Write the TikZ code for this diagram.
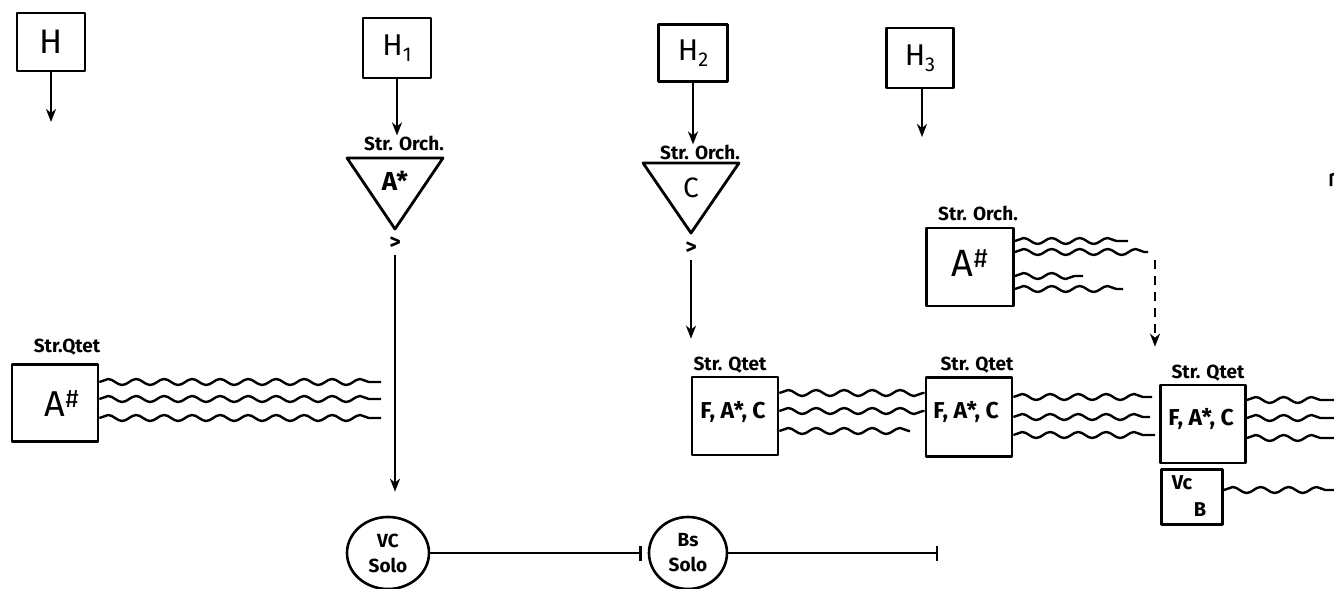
\documentclass[tikz,border=0pt]{standalone}
\usepackage{fontspec}
\setmainfont{Fira Sans}
\usetikzlibrary{arrows.meta,decorations.pathmorphing,calc,shapes.geometric}
\begin{document}
\begin{tikzpicture}[x=1pt,y=-1pt,
  box/.style={draw,line width=2.8pt,inner sep=0pt,line join=round},
  tri/.style={draw,line width=2.8pt,line join=round},
  lbl/.style={inner sep=0pt,font=\bfseries\fontsize{19}{22}\selectfont},
  txt/.style={inner sep=0pt},
  arr/.style={line width=2.4pt,-{Stealth[length=13pt,width=10pt,inset=4pt]}},
  darr/.style={line width=2.4pt,dash pattern=on 9pt off 7pt,-{Stealth[length=13pt,width=10pt,inset=4pt]}},
  wave/.style={line width=2.4pt,decorate,decoration={snake,segment length=28pt,amplitude=3pt}},
  barline/.style={line width=2.4pt,-{Bar[width=15pt,line width=2.4pt]}},
  solo/.style={draw,ellipse,line width=2.6pt,inner sep=0pt,align=center,font=\bfseries\fontsize{19}{25}\selectfont},
]
\useasboundingbox (0,0) rectangle (1334,589);

% H boxes
\node[box,minimum width=68pt,minimum height=58pt,font=\fontsize{34}{34}\selectfont] (h) at (51,42) {H};
\node[box,minimum width=68pt,minimum height=60pt,font=\fontsize{30}{30}\selectfont] (h1) at (397,48) {H\raisebox{-6pt}{\fontsize{20}{20}\selectfont 1}};
\node[box,minimum width=69pt,minimum height=57pt,font=\fontsize{30}{30}\selectfont] (h2) at (693,53) {H\raisebox{-6pt}{\fontsize{20}{20}\selectfont 2}};
\node[box,minimum width=67pt,minimum height=60pt,font=\fontsize{30}{30}\selectfont] (h3) at (920,58) {H\raisebox{-6pt}{\fontsize{20}{20}\selectfont 3}};

\coordinate (hend) at (51,122);
\coordinate (h3end) at (922,137);
\draw[arr] (h.south) -- (hend);
\draw[arr] (h3.south -| h3end) -- (h3end);

% H1 branch
\node[lbl] (o1) at (404,143) {Str. Orch.};
\draw[arr] (h1.south) -- (h1.south |- o1.north);
\draw[tri] (347,158) -- (443,158) -- (395,229) -- cycle;
\node[txt,font=\bfseries\fontsize{26}{26}\selectfont] (t1) at (395,181) {A*};
\node[txt,font=\bfseries\fontsize{22}{22}\selectfont] (acc1) at (395,243) {>};

% H2 branch
\node[lbl] (o2) at (700,152) {Str. Orch.};
\draw[arr] (h2.south) -- (h2.south |- o2.north);
\draw[tri] (643,163) -- (739,163) -- (691,233) -- cycle;
\node[txt,font=\fontsize{28}{28}\selectfont] (t2) at (691,188) {C};
\node[txt,font=\bfseries\fontsize{22}{22}\selectfont] (acc2) at (691,248) {>};

% solos
\node[solo,minimum width=82pt,minimum height=72pt] (vc) at (388,553) {VC\\Solo};
\node[solo,minimum width=78pt,minimum height=72pt] (bs) at (688,553) {Bs\\Solo};
\draw[arr,shorten <=5pt,shorten >=24pt] (acc1.south) -- (acc1.south |- vc.north);
\draw[barline,shorten >=6pt] (vc) -- (bs);
\coordinate (bar2) at (938,553);
\draw[barline] (bs.east) -- (bar2);

% left string quartet
\node[lbl] (lqa) at (67,347) {Str.Qtet};
\node[box,minimum width=86pt,minimum height=77pt] (qa) at (55,403) {};
\node[txt,font=\fontsize{36}{36}\selectfont] (ta) at (62,404) {A\textsuperscript{\#}};
\coordinate (qa1) at (381,382);
\coordinate (qa2) at (381,399);
\coordinate (qa3) at (381,418);
\draw[wave] (qa.east |- qa1) -- (qa1);
\draw[wave] (qa.east |- qa2) -- (qa2);
\draw[wave] (qa.east |- qa3) -- (qa3);

% Str. Orch. box
\node[lbl] (lob) at (978,213) {Str. Orch.};
\node[box,minimum width=87pt,minimum height=78pt] (ob) at (970,267) {};
\node[txt,font=\fontsize{38}{38}\selectfont] (tob) at (970,263) {A\textsuperscript{\#}};
\coordinate (ob1) at (1128,241);
\coordinate (ob2) at (1148,252);
\coordinate (ob3) at (1083,276);
\coordinate (ob4) at (1123,289);
\draw[wave] (ob.east |- ob1) -- (ob1);
\draw[wave] (ob.east |- ob2) -- (ob2);
\draw[wave] (ob.east |- ob3) -- (ob3);
\draw[wave] (ob.east |- ob4) -- (ob4);

% quartets right
\node[lbl] (lqb) at (730,365) {Str. Qtet};
\node[box,minimum width=86pt,minimum height=78pt] (qb) at (735,416) {};
\node[txt,font=\bfseries\fontsize{23}{23}\selectfont] (tb) at (733,412) {F, A*, C};
\draw[arr,shorten <=5pt,shorten >=18pt] (acc2.south) -- (acc2.south |- lqb.north);

\node[lbl] (lqc) at (977,365) {Str. Qtet};
\node[box,minimum width=86pt,minimum height=79pt] (qc) at (969,417) {};
\node[txt,font=\bfseries\fontsize{23}{23}\selectfont] (tc) at (966,412) {F, A*, C};
\coordinate (qb3) at (910,431);
\draw[wave] (qb.east |- 0,393) -- (qc.west |- 0,393);
\draw[wave] (qb.east |- 0,411) -- (qc.west |- 0,411);
\draw[wave] (qb.east |- qb3) -- (qb3);

\node[lbl] (lqd) at (1208,373) {Str. Qtet};
\node[box,minimum width=85pt,minimum height=78pt] (qd) at (1203,424) {};
\node[txt,font=\bfseries\fontsize{23}{23}\selectfont] (td) at (1201,419) {F, A*, C};
\coordinate (qc1) at (1152,397);
\coordinate (qc2) at (1150,417);
\coordinate (qc3) at (1155,435);
\draw[wave] (qc.east |- qc1) -- (qc1);
\draw[wave] (qc.east |- qc2) -- (qc2);
\draw[wave] (qc.east |- qc3) -- (qc3);

\coordinate (dstart) at (1155,260);
\draw[darr,shorten >=18pt] (dstart) -- (dstart |- lqd.north);

\coordinate (qd1) at (1334,400);
\coordinate (qd2) at (1334,418);
\coordinate (qd3) at (1334,438);
\draw[wave] (qd.east |- qd1) -- (qd1);
\draw[wave] (qd.east |- qd2) -- (qd2);
\draw[wave] (qd.east |- qd3) -- (qd3);

% Vc B box
\node[box,minimum width=61pt,minimum height=55pt] (vcb) at (1192,497) {};
\node[txt,font=\bfseries\fontsize{20}{20}\selectfont] (tvc) at (1182,483) {Vc};
\node[txt,font=\bfseries\fontsize{20}{20}\selectfont] (tbb) at (1200,510) {B};
\coordinate (vcb1) at (1334,490);
\draw[wave] (vcb.east |- vcb1) -- (vcb1);

% stray mark at right edge
\draw[line width=2.6pt] (1331,186) -- (1331,175) -- (1334,174);
\end{tikzpicture}
\end{document}
